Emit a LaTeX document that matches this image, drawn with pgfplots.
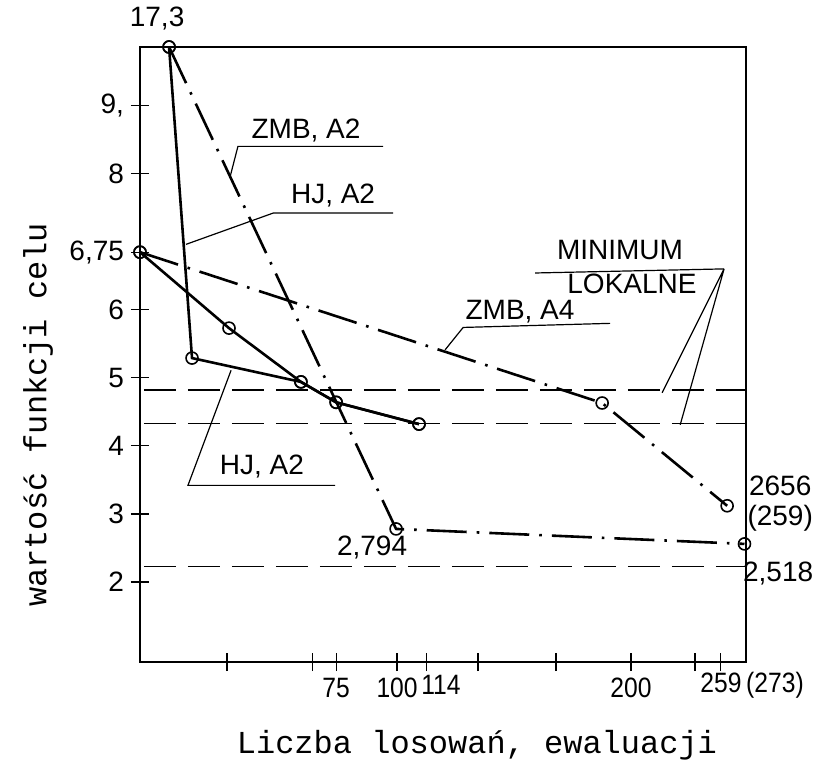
\documentclass[border=0pt]{standalone}
\usepackage{fontspec}
\setmainfont{Liberation Sans}
\newfontfamily\tw{Liberation Mono}
\newfontfamily\cond[FakeStretch=0.88]{Liberation Sans}
\usepackage{pgfplots}
\pgfplotsset{compat=1.18}
\begin{document}
\begin{tikzpicture}
\begin{axis}[
 scale only axis, width=303pt, height=307.5pt,
 xmin=0, xmax=237.6, ymin=0.825, ymax=9.86,
 clip=false,
 axis line style={line width=0.6pt},
 every tick/.style={black, line width=0.6pt},
 tick align=center,
 major tick length=9pt,
 xtick pos=bottom, ytick pos=left,
 xtick={34.1,67.5,76.9,100.8,112.2,132.5,163.1,192.5,217.6,227.5},
 xticklabels={,,75,100,,,,200,,},
 ytick={2,3,4,5,6,6.846,8,9},
 yticklabels={2,3,4,5,6,{6,75},8,{9,}},
 /pgf/number format/assume math mode=true,
 tick label style={font=\fontsize{14}{16}\selectfont},
 xticklabel style={font=\cond\fontsize{14}{16}\selectfont},
]
% HJ, A2 (from 17,3)
\addplot[black, line width=1.3pt, mark=o, mark size=3pt, mark options={fill=white, line width=0.8pt, solid}]
 coordinates {(11.4,9.86) (20.4,5.29) (63.1,4.94) (76.9,4.64) (109.4,4.32)};
% HJ, A2 (from 6,75)
\addplot[black, line width=1.3pt, mark=o, mark size=3pt, mark options={fill=white, line width=0.8pt, solid}]
 coordinates {(0,6.846) (34.9,5.73) (63.1,4.94) (76.9,4.64) (109.4,4.32)};
% ZMB, A2
\addplot[black, line width=1.3pt, dash pattern=on 20pt off 5pt on 1.3pt off 5pt, mark=o, mark size=3pt, mark options={fill=white, line width=0.8pt, solid}]
 coordinates {(11.4,9.86) (100.4,2.78) (237.0,2.56)};
% ZMB, A4
\addplot[black, line width=1.3pt, dash pattern=on 20pt off 5pt on 1.3pt off 5pt, mark=o, mark size=3pt, mark options={fill=white, line width=0.8pt, solid}]
 coordinates {(0,6.846) (181.2,4.63) (230.2,3.12)};
% local minima (dashed)
\addplot[black, line width=0.6pt, dash pattern=on 16pt off 6pt, mark=none] coordinates {(1.5,4.82) (237.6,4.82)};
\addplot[black, line width=0.6pt, dash pattern=on 16pt off 6pt, mark=none] coordinates {(1.5,4.33) (237.6,4.33)};
\addplot[black, line width=0.6pt, dash pattern=on 16pt off 6pt, mark=none] coordinates {(1.5,2.23) (237.6,2.23)};

% annotations
\begin{scope}[line width=0.6pt, every node/.style={font=\fontsize{14}{16}\selectfont}]
\draw (axis cs:35.3,7.95) -- (axis cs:38.4,8.40) -- (axis cs:95.3,8.40);
\node at (axis cs:65.1,8.63) {ZMB, A2};
\draw (axis cs:18.0,6.96) -- (axis cs:52.2,7.42) -- (axis cs:99.2,7.42);
\node at (axis cs:75.7,7.68) {HJ, A2};
\draw (axis cs:35.7,5.11) -- (axis cs:18.8,3.42) -- (axis cs:76.5,3.42);
\node at (axis cs:47.8,3.69) {HJ, A2};
\draw (axis cs:119.6,5.41) -- (axis cs:126.7,5.74) -- (axis cs:184.3,5.80);
\node at (axis cs:149.0,5.97) {ZMB, A4};
\draw (axis cs:154.9,6.54) -- (axis cs:229.0,6.60);
\draw (axis cs:204.7,4.78) -- (axis cs:229.0,6.60) -- (axis cs:211.8,4.31);
\node at (axis cs:188.2,6.88) {MINIMUM};
\node at (axis cs:192.9,6.38) {LOKALNE};
\node at (axis cs:6.7,10.28) {17,3};
\node at (axis cs:91.0,2.50) {2,794};
\node at (axis cs:251.0,3.42) {2656};
\node at (axis cs:251.0,2.94) {(259)};
\node at (axis cs:250.2,2.13) {2,518};
\node[font=\cond\fontsize{14}{16}\selectfont] at (axis cs:118.0,0.49) {114};
\node[font=\cond\fontsize{14}{16}\selectfont] at (axis cs:240.0,0.49) {259\,(273)};
\end{scope}
\node[font=\tw\fontsize{16}{18}\selectfont] at (rel axis cs:0.556,-0.135) {Liczba losowań, ewaluacji};
\node[font=\tw\fontsize{16}{18}\selectfont, rotate=90] at (rel axis cs:-0.168,0.402) {wartość funkcji celu};
\end{axis}
\pgfresetboundingbox
\path (-70pt,-55pt) rectangle (338.5pt,331pt);
\end{tikzpicture}
\end{document}
